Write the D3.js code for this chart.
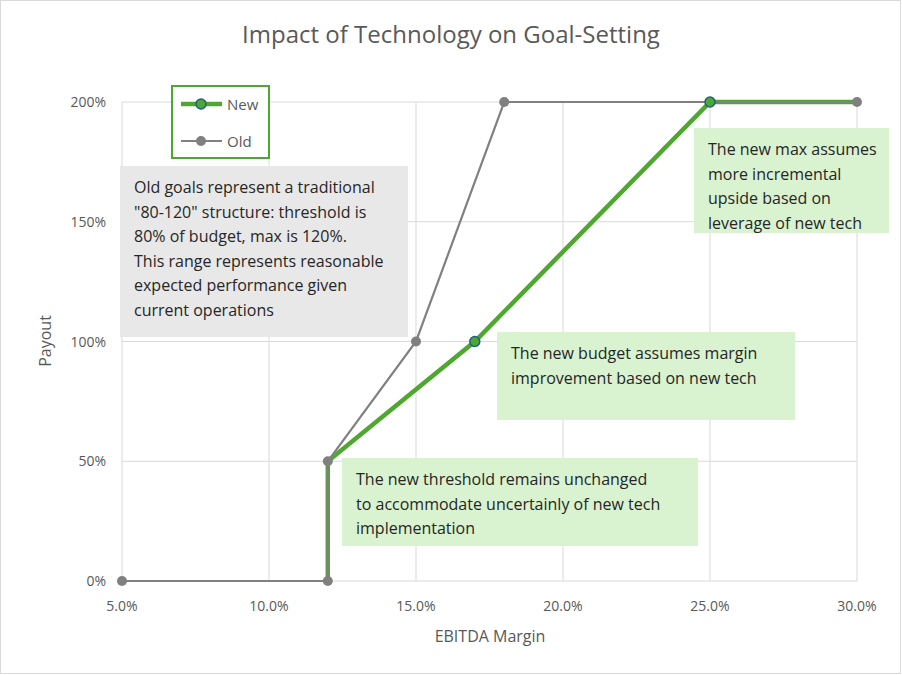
<!DOCTYPE html><html><head><meta charset="utf-8"><script src="https://cdn.jsdelivr.net/npm/d3@7"></script>
<style>body{margin:0;background:#fff}text{font-family:"Segoe UI","Open Sans",Lato,sans-serif}</style></head><body>
<svg id="c" width="902" height="675"></svg>
<script>
const xTicks=[5,10,15,20,25,30];
const yTicks=[0,50,100,150,200];
const oldX=[5,12,12,15,18,30], oldY=[0,0,50,100,200,200];
const newX=[12,12,17,25,30], newY=[0,50,100,200,200];
const newMarkIdx=[2,3];
const svg=d3.select("#c");
svg.append("rect").attr("x",0.5).attr("y",0.5).attr("width",900).attr("height",673).attr("fill","#fff").attr("stroke","#d9d9d9");
const x=d3.scaleLinear().domain([5,30]).range([122,857]);
const y=d3.scaleLinear().domain([0,200]).range([581,102]);
const g=svg.append("g");
xTicks.forEach(t=>g.append("line").attr("x1",x(t)).attr("x2",x(t)).attr("y1",y(0)).attr("y2",y(200)).attr("stroke","#d9d9d9"));
yTicks.forEach(t=>g.append("line").attr("x1",x(5)).attr("x2",x(30)).attr("y1",y(t)).attr("y2",y(t)).attr("stroke","#d9d9d9"));
xTicks.forEach(t=>g.append("text").attr("x",x(t)).attr("y",611).attr("text-anchor","middle").attr("font-size",14).attr("fill","#595959").text(t.toFixed(1)+"%"));
yTicks.forEach(t=>g.append("text").attr("x",106).attr("y",y(t)+5).attr("text-anchor","end").attr("font-size",14).attr("fill","#595959").text(t+"%"));
svg.append("text").attr("x",451).attr("y",43).attr("text-anchor","middle").attr("font-size",24).attr("fill","#595959").text("Impact of Technology on Goal-Setting");
svg.append("text").attr("x",490).attr("y",642).attr("text-anchor","middle").attr("font-size",16).attr("fill","#595959").text("EBITDA Margin");
svg.append("text").attr("transform","translate(51,341) rotate(-90)").attr("text-anchor","middle").attr("font-size",16).attr("fill","#595959").text("Payout");
const line=d3.line().x(d=>x(d[0])).y(d=>y(d[1]));
const nd=newX.map((v,i)=>[v,newY[i]]), od=oldX.map((v,i)=>[v,oldY[i]]);
svg.append("path").attr("d",line(nd)).attr("fill","none").attr("stroke","#4ea72e").attr("stroke-width",4.5);
svg.append("path").attr("d",line(od)).attr("fill","none").attr("stroke","#808080").attr("stroke-width",2.2);
newMarkIdx.forEach(i=>svg.append("circle").attr("cx",x(newX[i])).attr("cy",y(newY[i])).attr("r",5).attr("fill","#4ea72e").attr("stroke","#1f5f8b").attr("stroke-width",1.5));
od.forEach(d=>svg.append("circle").attr("cx",x(d[0])).attr("cy",y(d[1])).attr("r",5).attr("fill","#808080"));
// legend
svg.append("rect").attr("x",172).attr("y",86).attr("width",97).attr("height",72).attr("fill","#fff").attr("stroke","#4ea72e").attr("stroke-width",2);
svg.append("line").attr("x1",181).attr("x2",222).attr("y1",104).attr("y2",104).attr("stroke","#4ea72e").attr("stroke-width",4.5);
svg.append("circle").attr("cx",201).attr("cy",104).attr("r",5).attr("fill","#4ea72e").attr("stroke","#1f5f8b").attr("stroke-width",1.5);
svg.append("text").attr("x",227).attr("y",110).attr("font-size",15).attr("fill","#595959").text("New");
svg.append("line").attr("x1",181).attr("x2",222).attr("y1",141).attr("y2",141).attr("stroke","#808080").attr("stroke-width",2.2);
svg.append("circle").attr("cx",201).attr("cy",141).attr("r",5).attr("fill","#808080");
svg.append("text").attr("x",227).attr("y",147).attr("font-size",15).attr("fill","#595959").text("Old");
function box(x0,y0,w,h,fill,lines){svg.append("rect").attr("x",x0).attr("y",y0).attr("width",w).attr("height",h).attr("fill",fill);
 lines.forEach((l,i)=>svg.append("text").attr("x",x0+14).attr("y",y0+27+i*24.5).attr("font-size",16).attr("fill","#262626").text(l));}
box(120,166,288,171,"#e8e8e8",['Old goals represent a traditional','"80-120" structure: threshold is','80% of budget, max is 120%.','This range represents reasonable','expected performance given','current operations']);
box(694,128,195,105,"#d9f2d0",['The new max assumes','more incremental','upside based on','leverage of new tech']);
box(497,332,298,88,"#d9f2d0",['The new budget assumes margin','improvement based on new tech']);
box(342,458,356,88,"#d9f2d0",['The new threshold remains unchanged','to accommodate uncertainly of new tech','implementation']);
</script></body></html>
